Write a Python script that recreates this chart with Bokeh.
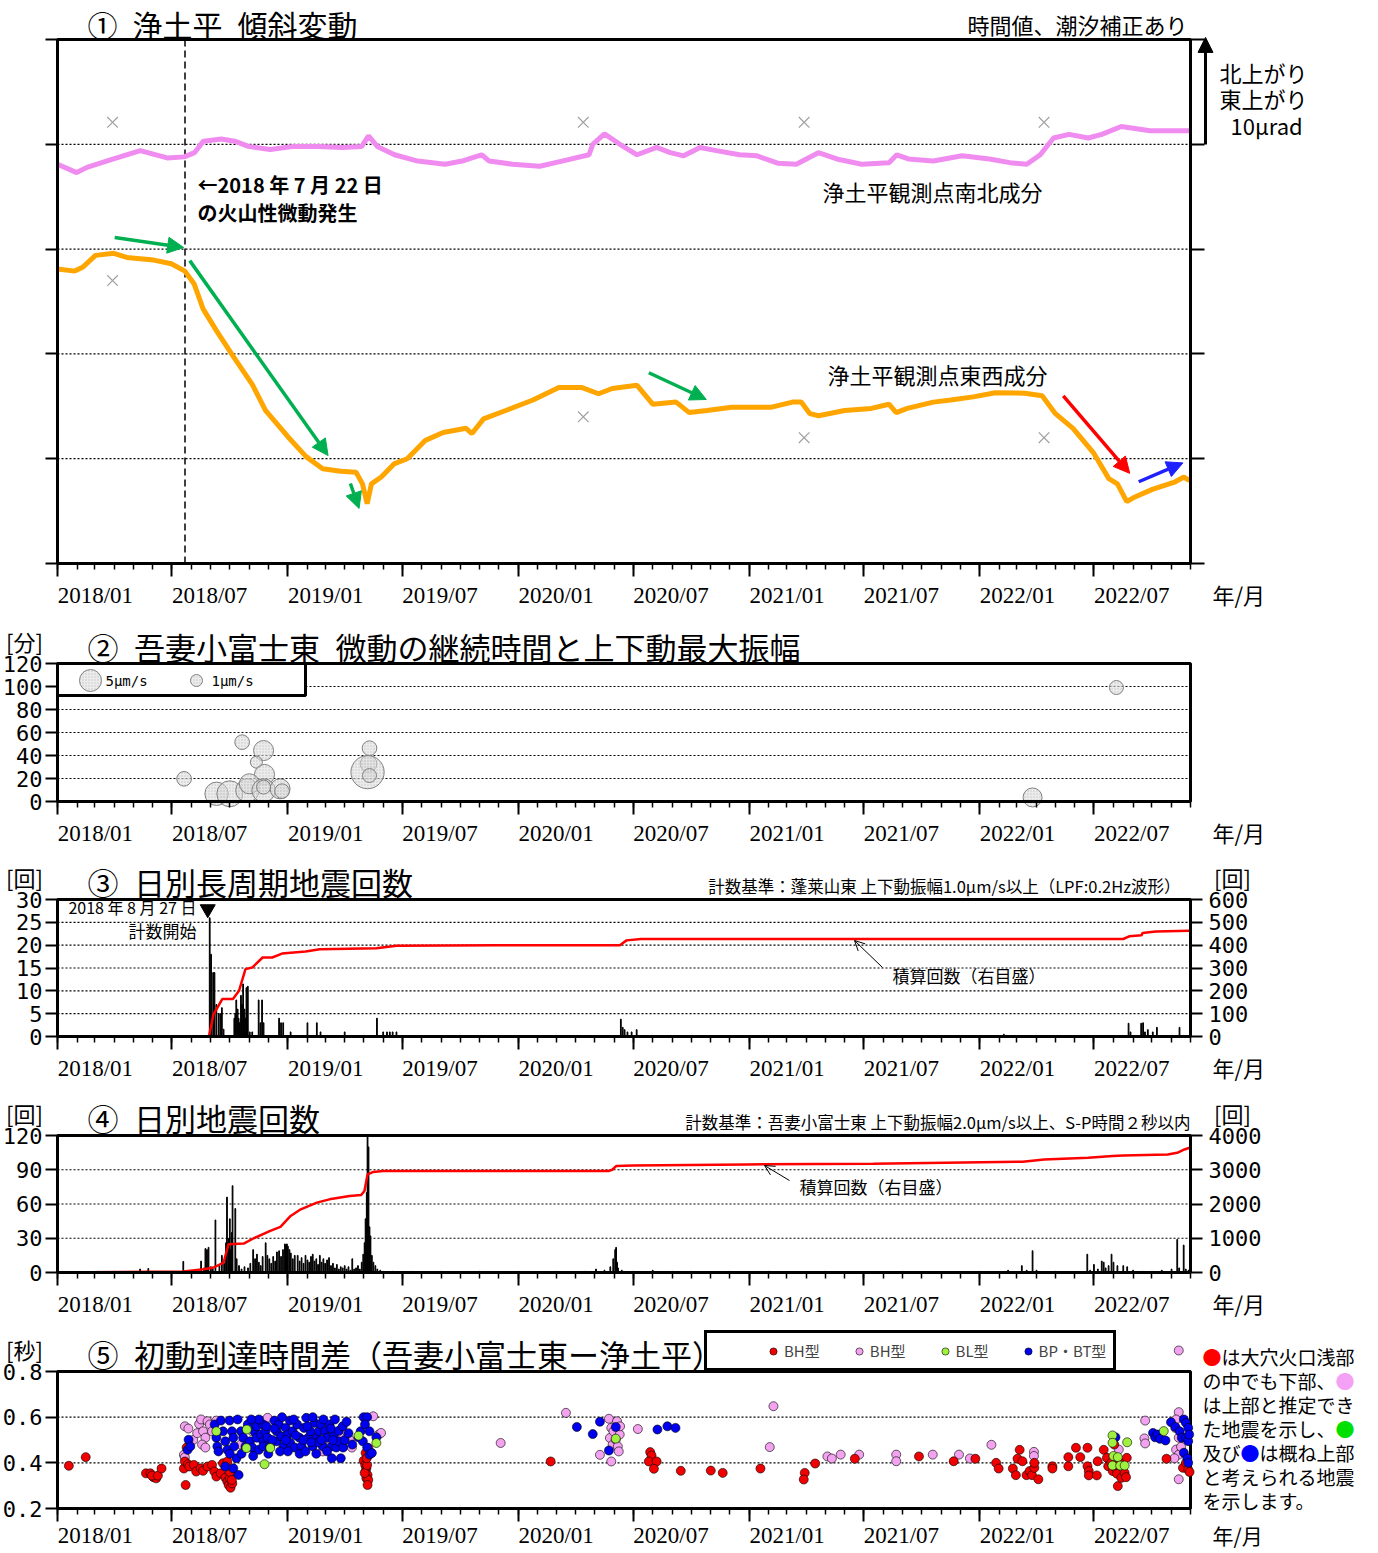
import numpy as np
import pandas as pd
from bokeh.plotting import figure
from bokeh.layouts import column
from bokeh.models import (ColumnDataSource, Range1d, LinearAxis, FixedTicker, Label, Arrow,
                          NormalHead, OpenHead, Legend, LegendItem)
from bokeh.embed import file_html
from bokeh.resources import INLINE

# ---------------------------------------------------------------- data
# time values are "months since 2018-01" (fractional)
tick_labels = ["2018/01", "2018/07", "2019/01", "2019/07", "2020/01", "2020/07",
               "2021/01", "2021/07", "2022/01", "2022/07"]

# (1) tilt, micro-radian (relative)
ew_m = [0, 0.88, 1.34, 2.04, 2.97, 3.66, 5.05, 5.98, 6.67, 7.14, 7.6, 8.3, 9.2, 10.15, 10.85, 12.0,
        12.93, 13.86, 14.8, 15.6, 15.94, 16.18, 16.4, 16.9, 17.57, 18.26, 19.19, 20.1, 21.3, 21.6,
        22.2, 23.36, 24.75, 26.14, 27.3, 28.2, 28.9, 30.2, 31.0, 32.2, 32.9, 33.8, 35.1, 37.1, 38.3,
        38.75, 39.2, 39.66, 41.0, 42.4, 43.3, 43.67, 44.24, 45.6, 46.5, 47.67, 48.8, 50.4, 51.3, 52.0,
        52.9, 54.0, 54.76, 55.2, 55.68, 56.1, 57.05, 58.2, 58.65, 58.95]
ew_v = [28.1, 27.9, 28.3, 29.4, 29.6, 29.2, 28.95, 28.6, 27.9, 26.7, 24.3, 22.2, 19.7, 17.1, 14.6,
        12.1, 10.2, 9.05, 8.8, 8.7, 7.6, 5.7, 7.6, 8.25, 9.5, 10.0, 11.75, 12.5, 12.9, 12.4, 13.8,
        14.6, 15.6, 16.8, 16.8, 16.2, 16.7, 17.0, 15.2, 15.4, 14.4, 14.6, 14.9, 14.9, 15.4, 15.4,
        14.3, 14.1, 14.6, 14.8, 15.2, 14.4, 14.8, 15.4, 15.6, 15.9, 16.3, 16.25, 16.0, 14.3, 12.9,
        10.5, 8.1, 7.6, 5.9, 6.35, 7.1, 7.8, 8.25, 7.9]
ns_m = [0, 0.98, 1.56, 2.96, 4.36, 5.76, 6.64, 7.16, 7.62, 8.55, 9.25, 9.95, 11.1, 12.3, 13.7, 14.85,
        15.9, 16.25, 16.7, 17.6, 18.8, 20.2, 21.1, 21.6, 22.1, 22.5, 23.7, 25.1, 26.3, 27.7, 27.9,
        28.5, 29.3, 30.2, 31.2, 31.9, 32.6, 33.45, 34.3, 35.5, 36.4, 37.5, 38.5, 39.65, 40.6, 41.9,
        43.3, 43.7, 44.3, 45.6, 47.1, 48.5, 49.6, 50.5, 51.2, 51.9, 52.7, 53.7, 54.4, 55.4, 56.9, 58.95]
ns_v = [38.1, 37.3, 37.8, 38.6, 39.4, 38.7, 38.8, 39.2, 40.3, 40.5, 40.3, 39.8, 39.5, 39.8, 39.8,
        39.7, 39.8, 40.8, 39.8, 39.0, 38.4, 38.1, 38.4, 38.7, 39.0, 38.4, 38.1, 37.9, 38.4, 39.0,
        40.0, 41.0, 40.0, 39.0, 39.7, 39.2, 38.9, 39.7, 39.4, 39.0, 38.9, 38.2, 38.1, 39.2, 38.6,
        38.1, 38.25, 39.0, 38.6, 38.4, 38.9, 38.6, 38.25, 38.1, 39.0, 40.6, 40.95, 40.6, 40.95,
        41.7, 41.3, 41.3]
gap_m = [2.91, 2.91, 27.4, 27.4, 38.9, 38.9, 51.4, 51.4]
gap_v = [42.1, 27.0, 42.1, 14.0, 42.1, 12.0, 42.1, 12.0]
trend_m0 = [3.02, 6.92, 15.3, 30.8, 52.4, 56.3]
trend_v0 = [31.1, 28.9, 7.63, 18.2, 16.0, 7.8]
trend_m1 = [6.61, 14.15, 15.76, 33.77, 55.83, 58.6]
trend_v1 = [30.15, 10.3, 5.25, 15.65, 8.6, 9.6]
trend_kind = ["g", "g", "g", "g", "r", "b"]
tremor_date = "2018-07-22"
count_start_date = "2018-08-27"

# (2) tremor duration [min] and max vertical amplitude [um/s]
tr_m = [6.63, 9.63, 10.75, 10.37, 10.8, 8.3, 9.0, 9.9, 10.0, 10.75, 11.6, 11.7, 10.75,
        16.3, 16.25, 16.2, 16.3, 50.8, 55.15]
tr_dur = [19.7, 51.6, 44.3, 34.2, 23.5, 6.7, 6.7, 9.6, 15.4, 9.6, 11.0, 9.0, 12.5,
          46.4, 32.8, 25.5, 22.6, 3.5, 99.1]
tr_amp = [1.7, 1.7, 3.9, 1.0, 3.9, 5.9, 7.8, 5.9, 3.9, 5.9, 3.9, 1.7, 1.5,
          1.7, 2.4, 15.0, 1.5, 3.4, 1.5]

# (3) daily long-period events + cumulative
lp_m = [7.94, 8.01, 8.12, 8.19, 8.29, 8.41, 8.5, 8.58, 8.67, 9.23, 9.28, 9.33, 9.4, 9.45, 9.5, 9.57,
        9.62, 9.68, 9.75, 9.8, 9.85, 9.88, 9.92, 10.02, 10.15, 10.49, 10.58, 10.67, 10.75, 11.55,
        11.65, 11.76, 12.14, 13.0, 13.53, 13.74, 15.0, 16.68, 17.0, 17.2, 17.35, 17.5, 17.7,
        29.35, 29.45, 29.55, 29.7, 29.92, 30.18, 49.26, 55.77, 55.87, 56.43, 56.53, 56.63, 56.78,
        57.04, 57.25, 58.42]
lp_n = [26, 18, 14, 14, 7, 5, 5, 6.3, 1.6, 4, 5, 8, 6, 4, 3, 9, 7, 11.5, 6, 4, 10.7, 8, 11, 1, 1,
        8, 3, 8, 3, 4, 3, 3, 1, 3, 3, 1, 1, 4, 1, 1, 1, 1, 1,
        3.8, 2, 1.5, 1, 1, 1.5, 0.5, 2.9, 1, 2.9, 3, 1, 1.5, 1, 2, 2]
lpc_m = [7.9, 8.14, 8.3, 8.6, 9.16, 9.47, 9.8, 10.15, 10.7, 11.2, 11.7, 12.9, 13.7, 16.65, 17.7,
         22.9, 29.3, 29.65, 30.4, 55.5, 55.8, 56.45, 56.5, 57.2, 58.95]
lpc_v = [0, 98, 120, 164, 164, 200, 295, 302, 346, 346, 363, 372, 382, 387, 397, 400, 400, 421,
         427, 427, 439, 443, 453, 460, 463]

# (4) daily earthquakes + cumulative
eq_m = [2.2, 3.0, 4.35, 4.77, 5.5, 6.0, 6.59, 7.3, 7.5, 7.65, 7.72, 7.8, 7.88, 8.0, 8.1, 8.24, 8.45,
        8.58, 8.7, 8.8, 8.85, 8.95, 9.0, 9.05, 9.1, 9.14, 9.28, 9.35, 9.47, 9.6, 9.75, 9.93, 10.05,
        10.2, 10.3, 10.4, 10.5, 10.6, 10.7, 10.86, 10.95, 11.05, 11.15, 11.25, 11.35, 11.44, 11.55,
        11.65, 11.75, 11.85, 11.9, 11.95, 12.0, 12.08, 12.15, 12.25, 12.35, 12.5, 12.6, 12.7, 12.8,
        12.9, 13.0, 13.1, 13.2, 13.3, 13.4, 13.5, 13.6, 13.7, 13.8, 13.9, 14.0, 14.1, 14.2, 14.3,
        14.4, 14.5, 14.6, 14.7, 14.8, 14.9, 15.0, 15.1, 15.2, 15.3, 15.4, 15.5, 15.6, 15.7, 15.8,
        15.9, 15.98, 16.05, 16.1, 16.16, 16.2, 16.25, 16.3, 16.35, 16.42, 16.5, 16.6, 16.7, 16.85,
        17.0, 17.5, 18.5, 20.0, 22.0, 24.0, 26.0, 27.5, 28.07, 28.5, 28.8, 28.95, 29.05, 29.1,
        29.15, 29.2, 29.4, 30.0, 31.0, 32.0, 33.0, 35.0, 37.0, 40.0, 44.0, 48.0, 49.5, 50.25, 50.5,
        50.8, 51.0, 52.0, 53.65, 53.8, 54.0, 54.2, 54.4, 54.5, 54.6, 54.75, 54.9, 55.0, 55.2, 55.5,
        55.7, 56.0, 56.5, 57.0, 57.5, 58.0, 58.3, 58.4, 58.64, 58.75, 58.9]
eq_n = [1, 1, 3, 3.5, 1, 1, 9.7, 2, 10, 4, 21, 20, 22, 5, 3, 46, 6, 15, 8, 26, 66, 30, 47, 20, 35,
        76, 56, 12, 6, 3, 5, 4, 8, 20, 12, 16, 9, 6, 14, 26, 15, 12, 8, 14, 10, 18, 19, 14, 20, 25,
        24, 25, 23, 20, 17, 12, 15, 15, 10, 13, 8, 15, 11, 9, 14, 16, 10, 12, 7, 15, 9, 12, 8, 11,
        13, 6, 8, 4, 7, 3, 5, 4, 6, 3, 5, 2, 12, 3, 4, 6, 3, 9, 16, 26, 47, 70, 120, 110, 40, 32,
        15, 9, 6, 3, 2, 1, 1, 1, 1, 1, 1, 1, 1, 3, 2, 5, 12, 20, 22, 9, 4, 2, 1, 2, 1, 1, 1, 1, 1,
        1, 1, 2, 6, 2, 19, 2, 1, 16, 2, 7, 3, 10, 9, 4, 6, 16, 9, 6, 6, 5, 2, 1, 1, 2, 3, 29, 4, 24,
        3, 2]
eqc_m = [0, 6.59, 7.63, 8.15, 8.67, 8.93, 9.71, 10.23, 11.1, 11.62, 12.14, 12.66, 13.53, 14.22,
         15.26, 15.87, 16.04, 16.2, 16.47, 17.0, 25.0, 28.7, 28.9, 29.1, 30.0, 35.85, 42.5, 46.2,
         50.3, 51.4, 53.7, 54.96, 55.5, 57.8, 58.3, 58.68, 58.95]
eqc_v = [0, 29, 97, 146, 291, 825, 845, 1000, 1214, 1330, 1651, 1845, 2039, 2136, 2233, 2262,
         2379, 2864, 2932, 2961, 2962, 2962, 3000, 3107, 3127, 3156, 3175, 3204, 3233, 3301, 3350,
         3398, 3418, 3447, 3496, 3593, 3641]

# (5) first-motion arrival time difference [s]
bhl_m = [0.58, 1.49, 4.65, 4.88, 5.04, 5.18, 4.95, 5.27, 5.46, 6.62, 6.71, 6.76, 6.67, 6.83, 6.9,
         7.13, 7.25, 7.48, 7.6, 7.83, 8.06, 8.18, 8.29, 8.52, 8.64, 8.76, 8.87, 8.94, 8.99, 9.04,
         9.13, 9.18, 8.87, 9.0, 9.1, 16.0, 16.08, 16.14, 16.1, 16.2, 16.14, 16.24, 16.2, 16.1,
         16.24, 16.05, 16.18, 16.16, 25.7, 30.87, 30.94, 30.8, 31.2, 31.06, 32.45, 34.0, 34.63,
         36.57, 38.93, 38.88, 39.48, 41.54, 44.86, 46.66, 47.78, 48.84, 48.97, 49.77, 49.94, 50.14,
         50.03, 50.28, 50.49, 50.65, 50.77, 50.89, 50.89, 51.1, 51.84, 51.84, 52.66, 52.66, 53.05,
         53.28, 53.66, 53.66, 53.73, 53.73, 54.15, 54.19, 54.5, 54.66, 54.73, 54.89, 54.96, 55.04,
         55.11, 55.18, 55.22, 55.34, 55.4, 55.57, 55.64, 55.68, 57.74, 58.6, 58.76, 58.88, 58.95]
bhl_v = [.387, .425, .354, .354, .337, .332, .344, .344, .375, .375, .303, .467, .406, .394, .384,
         .391, .362, .376, .365, .384, .391, .362, .34, .354, .398, .335, .318, .303, .332, .291,
         .31, .347, .406, .36, .325, .409, .391, .376, .362, .347, .332, .325, .303, .443, .465,
         .355, .39, .42, .406, .447, .432, .406, .406, .374, .365, .366, .356, .375, .356, .327,
         .397, .418, .428, .407, .418, .4, .375, .375, .346, .457, .418, .407, .346, .364, .346,
         .378, .4, .328, .385, .375, .385, .425, .466, .425, .466, .385, .364, .345, .345, .407,
         .457, .422, .385, .4, .364, .48, .378, .352, .298, .4, .334, .356, .337, .422, .418, .378,
         .4, .37, .36]
bhu_m = [6.67, 6.85, 6.62, 6.67, 7.1, 7.3, 7.4, 7.5, 7.6, 7.72, 7.83, 7.95, 8.06, 8.29, 7.55, 7.72,
         9.57, 9.92, 10.15, 10.96, 11.08, 13.87, 14.1, 14.8, 14.93, 14.8, 15.26, 15.38, 16.49,
         16.77, 16.89, 23.1, 26.5, 28.73, 28.85, 28.78, 28.92, 28.96, 29.08, 29.15, 29.19, 29.24,
         28.85, 29.29, 29.31, 28.27, 30.24, 37.26, 37.05, 40.12, 40.35, 40.8, 41.77, 43.67, 43.67,
         45.57, 46.94, 47.5, 48.6, 50.87, 50.87, 54.72, 55.27, 56.64, 56.6, 56.64, 58.38, 58.24,
         58.2, 58.38, 58.24, 58.38, 58.15, 58.38, 58.5, 58.38]
bhu_v = [.56, .55, .435, .424, .5, .53, .57, .59, .538, .51, .582, .568, .538, .585, .48, .467, .48,
         .467, .538, .597, .494, .45, .501, .546, .534, .51, .501, .467, .604, .524, .531, .487,
         .619, .593, .553, .509, .479, .538, .501, .582, .472, .45, .406, .524, .56, .435, .548,
         .648, .469, .428, .419, .436, .436, .436, .407, .436, .436, .419, .479, .448, .43, .419,
         .458, .585, .507, .485, .622, .59, .553, .51, .458, .436, .42, .328, .47, .892]
bl_m = [8.29, 9.87, 9.85, 10.8, 11.1, 15.73, 16.65, 29.08, 54.95, 54.95, 55.0, 54.95, 55.22,
        55.34, 55.57, 57.6, 55.7]
bl_v = [.538, .546, .465, .394, .465, .519, .487, .506, .52, .488, .43, .388, .425, .388, .388,
        .539, .49]
bp_m = [6.86, 6.81, 6.95, 8.2, 8.29, 8.34, 8.53, 8.64, 8.76, 8.87, 8.99, 9.11, 9.18, 9.22, 9.34,
        8.76, 9.18, 9.45, 9.57, 9.68, 9.8, 9.92, 10.03, 10.15, 10.26, 10.38, 10.38, 10.5, 10.61,
        10.73, 10.73, 10.73, 10.84, 10.96, 11.08, 11.31, 11.43, 11.43, 11.54, 11.66, 11.78, 11.89,
        12.1, 12.0, 12.12, 12.24, 12.35, 12.47, 12.59, 12.7, 12.82, 12.94, 13.05, 13.17, 13.29,
        13.4, 13.52, 13.64, 13.75, 13.87, 13.99, 14.1, 14.22, 14.34, 14.45, 14.57, 14.69, 14.8,
        14.34, 14.92, 15.73, 15.84, 15.96, 16.0, 16.18, 16.07, 16.3, 16.18, 16.3, 16.42, 16.65,
        11.0, 11.2, 11.6, 11.7, 12.0, 12.3, 12.6, 12.9, 13.0, 13.3, 13.5, 13.6, 13.9, 14.1, 14.3,
        14.5, 14.7, 15.0, 15.2, 15.4, 10.5, 10.1, 9.4, 9.6, 10.2, 9.0, 8.4, 11.9, 12.4, 12.8, 13.2,
        13.8, 14.4, 14.9, 11.3, 10.9, 15.1,
        27.06, 27.9, 28.27, 28.73, 29.08, 31.24, 31.75, 32.17, 55.1, 57.05, 57.16, 57.28, 57.4,
        57.69, 57.97, 58.2, 58.43, 58.65, 58.76, 58.88, 58.54, 58.76, 58.88, 58.65, 58.83, 58.88,
        58.93]
bp_v = [.501, .457, .472, .568, .51, .472, .585, .538, .494, .457, .585, .538, .51, .472, .42,
        .384, .376, .347, .538, .51, .472, .568, .494, .467, .538, .56, .51, .457, .524, .494, .568,
        .472, .538, .51, .472, .585, .538, .494, .568, .516, .472, .553, .585, .524, .487, .538,
        .467, .568, .51, .472, .553, .597, .51, .538, .472, .575, .51, .538, .568, .472, .538, .51,
        .568, .472, .524, .467, .494, .42, .42, .467, .512, .538, .494, .6, .6, .568, .538, .467,
        .436, .443, .512,
        .44, .5, .45, .6, .45, .59, .44, .45, .56, .6, .44, .49, .59, .45, .55, .59, .54, .5, .53,
        .48, .59, .59, .59, .44, .43, .44, .45, .5, .52, .5, .49, .5, .5, .56, .55, .56, .58,
        .557, .526, .58, .454, .557, .546, .56, .553, .512, .531, .512, .524, .505, .498, .578,
        .557, .538, .59, .575, .553, .51, .51, .495, .444, .42, .4, .524]

# ---------------------------------------------------------------- helpers
T0 = pd.Timestamp("2018-01-01")
XMAX = (pd.Timestamp("2022-12-01") - T0).days


def mdays(ms):
    out = []
    for v in ms:
        k = int(np.floor(v))
        a = T0 + pd.DateOffset(months=k)
        b = T0 + pd.DateOffset(months=k + 1)
        out.append((a - T0).days + (v - k) * (b - a).days)
    return out


def dday(s):
    return (pd.Timestamp(s) - T0).days


JP = "Noto Sans CJK JP"
NUM = "DejaVu Sans Mono"
SERIF = "Liberation Serif"
FW, FL = 1133, 60          # plot box width / left edge (page pixels)
OX, W = 3, 1360            # canvas left edge / width (page pixels)
SP = "\u2002"              # en space

major_days = [int(round(d)) for d in mdays(range(0, 60, 6))]
month_days = [int(round(d)) for d in mdays(range(0, 60))]
lab_days = [d + 60 for d in major_days]

frames = {
    1: dict(top=39, h=524, y0=0, y1=50, ftop=0, fbot=612),
    2: dict(top=663, h=138, y0=0, y1=120, ftop=612, fbot=848),
    3: dict(top=899, h=137, y0=0, y1=30, ftop=848, fbot=1084),
    4: dict(top=1135, h=137, y0=0, y1=120, ftop=1084, fbot=1320),
    5: dict(top=1371, h=137, y0=0.2, y1=0.8, ftop=1320, fbot=1550),
}


def X(px):
    return (px - FL) * XMAX / FW


def Y(fr, dy, y0=None, y1=None):
    a = fr["y0"] if y0 is None else y0
    b = fr["y1"] if y1 is None else y1
    return b - dy * (b - a) / fr["h"]


def yrange(fr, a, b):
    return Range1d(Y(fr, fr["fbot"] - fr["top"], a, b), Y(fr, fr["ftop"] - fr["top"], a, b))


def make_fig(fr, yticks, gridv, labels=True, standoff=19):
    p = figure(width=W, height=fr["fbot"] - fr["ftop"], x_range=Range1d(X(OX), X(OX + W)),
               y_range=yrange(fr, fr["y0"], fr["y1"]), min_border=0,
               x_axis_location=None, y_axis_location=None, toolbar_location=None,
               title_location=None, output_backend="svg", tools="")
    p.outline_line_color = None
    p.background_fill_color = "white"
    p.border_fill_color = "white"
    p.grid.visible = False
    y0, y1 = fr["y0"], fr["y1"]
    # dotted horizontal grid lines
    p.segment(x0=[0] * len(gridv), x1=[XMAX] * len(gridv), y0=gridv, y1=gridv,
              line_color="black", line_dash="2 2", line_width=1.2)
    # plot box
    p.quad(left=[0], right=[XMAX], bottom=[y0], top=[y1], fill_color=None,
           line_color="black", line_width=3)
    # time axis: monthly ticks, long Jan/Jul ticks, labels right of the long ticks
    p.add_layout(LinearAxis(fixed_location=y0, bounds=(0, XMAX),
                            ticker=FixedTicker(ticks=[], minor_ticks=month_days),
                            major_tick_out=0, major_tick_in=0, minor_tick_out=6, minor_tick_in=0,
                            minor_tick_line_width=1.5, axis_line_width=3), "below")
    p.add_layout(LinearAxis(fixed_location=y0, bounds=(0, XMAX),
                            ticker=FixedTicker(ticks=[], minor_ticks=major_days),
                            major_tick_out=0, major_tick_in=0, minor_tick_out=13, minor_tick_in=0,
                            minor_tick_line_width=2, axis_line_color=None), "below")
    p.add_layout(LinearAxis(fixed_location=y0, bounds=(0, XMAX),
                            ticker=FixedTicker(ticks=lab_days, minor_ticks=[]),
                            major_label_overrides={d: t for d, t in zip(lab_days, tick_labels)},
                            major_tick_out=0, major_tick_in=0, minor_tick_out=0, minor_tick_in=0,
                            axis_line_color=None, major_tick_line_color=None,
                            major_label_standoff=standoff, major_label_text_font=SERIF,
                            major_label_text_font_size="23px", major_label_text_color="black"),
                 "below")
    if labels:
        ay = LinearAxis(fixed_location=0, bounds=(y0, y1),
                        ticker=FixedTicker(ticks=yticks, minor_ticks=[]), major_tick_out=12,
                        major_tick_in=0, minor_tick_out=0, minor_tick_in=0, major_tick_line_width=2,
                        axis_line_width=3, major_label_standoff=3, major_label_text_font=NUM,
                        major_label_text_font_size="22px", major_label_text_color="black")
    else:
        ay = LinearAxis(fixed_location=0, bounds=(y0, y1),
                        ticker=FixedTicker(ticks=[], minor_ticks=yticks), major_tick_out=0,
                        major_tick_in=0, minor_tick_out=12, minor_tick_in=0,
                        minor_tick_line_width=2, axis_line_width=3)
    p.add_layout(ay, "left")
    return p


def right_axis(p, fr, name, a, b, ticks):
    p.extra_y_ranges = {name: yrange(fr, a, b)}
    p.add_layout(LinearAxis(y_range_name=name, fixed_location=XMAX, bounds=(a, b),
                            ticker=FixedTicker(ticks=ticks, minor_ticks=[]), major_tick_out=12,
                            major_tick_in=0, minor_tick_out=0, minor_tick_in=0,
                            major_tick_line_width=2, axis_line_width=3, major_label_standoff=6,
                            major_label_text_font=NUM, major_label_text_font_size="22px",
                            major_label_text_color="black"), "right")


def txt(p, fr, px, dy, s, size, align="left", font=JP, color="black", style="normal"):
    p.add_layout(Label(x=X(px), y=Y(fr, dy), text=s, text_font=font, text_font_size=size,
                       text_align=align, text_baseline="middle", text_color=color,
                       text_font_style=style))


def ym_label(p, fr, off=30, size="22px"):
    txt(p, fr, 1215, fr["h"] + off, "年/月", size)


# ---------------------------------------------------------------- panel 1
f1 = frames[1]
p1 = make_fig(f1, [0, 10, 20, 30, 40, 50], [10, 20, 30, 40], labels=False)
p1.add_layout(LinearAxis(fixed_location=XMAX, bounds=(0, 50),
                         ticker=FixedTicker(ticks=[], minor_ticks=[0, 10, 20, 30, 40, 50]),
                         major_tick_out=0, major_tick_in=0, minor_tick_out=14, minor_tick_in=0,
                         minor_tick_line_width=2, axis_line_width=3), "right")
p1.add_layout(LinearAxis(fixed_location=X(1208), bounds=(40, 50),
                         ticker=FixedTicker(ticks=[], minor_ticks=[]), major_tick_out=0,
                         minor_tick_out=0, major_tick_in=0, minor_tick_in=0, axis_line_width=3),
              "right")
p1.add_layout(Arrow(end=NormalHead(size=15, fill_color="black", line_color="black"),
                    x_start=X(1208), y_start=47, x_end=X(1208), y_end=50.2,
                    line_color="black", line_width=3))
td = dday(tremor_date)
p1.segment(x0=[td], x1=[td], y0=[0], y1=[50], line_color="black", line_dash="7 4",
           line_width=1.5)
p1.line(mdays(ns_m), ns_v, line_color="#F08CF0", line_width=5)
p1.line(mdays(ew_m), ew_v, line_color="#FFA500", line_width=5)
p1.scatter(mdays(gap_m), gap_v, marker="x", size=15, line_color="#A0A0A0", line_width=1.2)
tcol = {"g": "#00B050", "r": "#FF0000", "b": "#2020FF"}
for a0, b0, a1, b1, k in zip(mdays(trend_m0), trend_v0, mdays(trend_m1), trend_v1, trend_kind):
    c = tcol[k]
    p1.add_layout(Arrow(end=NormalHead(size=16, fill_color=c, line_color=c), x_start=a0,
                        y_start=b0, x_end=a1, y_end=b1, line_color=c, line_width=3.5))

txt(p1, f1, 90, -16, "①" + SP + "浄土平" + SP + "傾斜変動", "30px")
txt(p1, f1, 1190, -16, "時間値、潮汐補正あり", "22px", align="right")
txt(p1, f1, 200, 145, "←2018 年 7 月 22 日", "20px", style="bold")
txt(p1, f1, 200, 173, "の火山性微動発生", "20px", style="bold")
txt(p1, f1, 825, 151, "浄土平観測点南北成分", "22px")
txt(p1, f1, 830, 334, "浄土平観測点東西成分", "22px")
txt(p1, f1, 1222, 32, "北上がり", "22px")
txt(p1, f1, 1222, 58, "東上がり", "22px")
txt(p1, f1, 1233, 85, "10μrad", "22px")
ym_label(p1, f1)

# ---------------------------------------------------------------- panel 2
f2 = frames[2]
p2 = make_fig(f2, [0, 20, 40, 60, 80, 100, 120], [20, 40, 60, 80, 100])


def bubble_size(a):
    return [12 * v ** 0.376 for v in a]


bsty = dict(fill_color="#DCDCDC", fill_alpha=0.55, line_color="#808080", line_width=1,
            hatch_pattern="dot", hatch_color="#A8A8A8", hatch_scale=3, hatch_alpha=0.6)
src2 = ColumnDataSource(dict(x=mdays(tr_m), y=tr_dur, s=bubble_size(tr_amp)))
p2.scatter("x", "y", size="s", source=src2, marker="circle", **bsty)
p2.quad(left=[0], right=[X(308)], top=[120], bottom=[Y(f2, 32)], fill_color="white",
        line_color="black", line_width=3)
p2.scatter([X(93), X(199)], [Y(f2, 17)] * 2, size=bubble_size([5, 1]), marker="circle", **bsty)
txt(p2, f2, 108, 17, "5μm/s", "14px", font=NUM)
txt(p2, f2, 214, 17, "1μm/s", "14px", font=NUM)
txt(p2, f2, 27, -23, "[分]", "22px", align="center")
txt(p2, f2, 90, -17, "②" + SP + "吾妻小富士東" + SP + "微動の継続時間と上下動最大振幅", "31px")
ym_label(p2, f2)

# ---------------------------------------------------------------- panel 3
f3 = frames[3]
p3 = make_fig(f3, [0, 5, 10, 15, 20, 25, 30], [5, 10, 15, 20, 25])
right_axis(p3, f3, "r", 0, 600, [0, 100, 200, 300, 400, 500, 600])
p3.vbar(x=mdays(lp_m), top=lp_n, width=1.2, fill_color="black", line_color="black", line_width=1)
p3.line(mdays(lpc_m), lpc_v, y_range_name="r", line_color="#FF0000", line_width=2.5)
p3.scatter([dday(count_start_date)], [27.9], marker="inverted_triangle", size=15,
           fill_color="black", line_color="black")
txt(p3, f3, 27, -23, "[回]", "22px", align="center")
txt(p3, f3, 1235, -23, "[回]", "22px", align="center")
txt(p3, f3, 90, -18, "③" + SP + "日別長周期地震回数", "31px")
txt(p3, f3, 1183, -14, "計数基準：蓬莱山東 上下動振幅1.0μm/s以上（LPF:0.2Hz波形）", "16.5px",
    align="right")
txt(p3, f3, 199, 7, "2018 年 8 月 27 日", "16px", align="right")
txt(p3, f3, 199, 31, "計数開始", "17px", align="right")
txt(p3, f3, 895, 76, "積算回数（右目盛）", "17px")
p3.add_layout(Arrow(end=OpenHead(size=10, line_width=1, line_color="black"), x_start=X(885),
                    y_start=Y(f3, 68), x_end=X(857), y_end=Y(f3, 41), line_width=1,
                    line_color="black"))
ym_label(p3, f3)

# ---------------------------------------------------------------- panel 4
f4 = frames[4]
p4 = make_fig(f4, [0, 30, 60, 90, 120], [30, 60, 90])
right_axis(p4, f4, "r", 0, 4000, [0, 1000, 2000, 3000, 4000])
p4.vbar(x=mdays(eq_m), top=eq_n, width=1.2, fill_color="black", line_color="black", line_width=1)
p4.line(mdays(eqc_m), eqc_v, y_range_name="r", line_color="#FF0000", line_width=2.5)
txt(p4, f4, 27, -23, "[回]", "22px", align="center")
txt(p4, f4, 1235, -23, "[回]", "22px", align="center")
txt(p4, f4, 90, -18, "④" + SP + "日別地震回数", "31px")
txt(p4, f4, 1193, -14, "計数基準：吾妻小富士東 上下動振幅2.0μm/s以上、S-P時間２秒以内", "16.5px",
    align="right")
txt(p4, f4, 802, 51, "積算回数（右目盛）", "17px")
p4.add_layout(Arrow(end=OpenHead(size=10, line_width=1, line_color="black"), x_start=X(792),
                    y_start=Y(f4, 45), x_end=X(767), y_end=Y(f4, 30), line_width=1,
                    line_color="black"))
ym_label(p4, f4)

# ---------------------------------------------------------------- panel 5
f5 = frames[5]
p5 = make_fig(f5, [0.2, 0.4, 0.6, 0.8], [0.4, 0.6], standoff=14)
msty = dict(size=9, line_color="black", line_width=0.6, marker="circle")
r_pink = p5.scatter(mdays(bhu_m), bhu_v, fill_color="#F2A2EE", **msty)
r_red = p5.scatter(mdays(bhl_m), bhl_v, fill_color="#F00000", **msty)
r_blue = p5.scatter(mdays(bp_m), bp_v, fill_color="#0000F0", **msty)
r_green = p5.scatter(mdays(bl_m), bl_v, fill_color="#A0F040", **msty)
r_dummy = p5.scatter([], [], size=1, fill_alpha=0, line_alpha=0)
leg = Legend(items=[LegendItem(label=" ", renderers=[r_dummy]),
                    LegendItem(label="BH型", renderers=[r_red]),
                    LegendItem(label="BH型", renderers=[r_pink]),
                    LegendItem(label="BL型", renderers=[r_green]),
                    LegendItem(label="BP・BT型", renderers=[r_blue])],
             location=(707 - OX, f5["fbot"] - f5["top"]), orientation="horizontal", spacing=30,
             padding=7, margin=0, glyph_width=18, glyph_height=18, label_standoff=2,
             label_width=0, label_text_font=JP, label_text_font_size="15px",
             border_line_color="black", border_line_width=3, border_line_alpha=1,
             background_fill_color="white", background_fill_alpha=1)
p5.add_layout(leg)
txt(p5, f5, 27, -23, "[秒]", "22px", align="center")
txt(p5, f5, 90, -18, "⑤" + SP + "初動到達時間差（吾妻小富士東ー浄土平）", "31px")
note_lines = ["　は大穴火口浅部", "の中でも下部、　", "は上部と推定でき", "た地震を示し、　",
              "及び　は概ね上部", "と考えられる地震", "を示します。"]
note_dots = [(0, 0, "#FF0000"), (1, 7, "#F4A0F4"), (3, 7, "#00E000"), (4, 2, "#0000FF")]
for i, s in enumerate(note_lines):
    txt(p5, f5, 1205, -15 + 24 * i, s, "19px")
for li, col, c in note_dots:
    txt(p5, f5, 1205 + 19 * col, -15 + 24 * li, "●", "19px", color=c)
ym_label(p5, f5, off=26, size="21px")

layout = column(p1, p2, p3, p4, p5, spacing=0)
open("out.html", "w").write(file_html(layout, INLINE))
